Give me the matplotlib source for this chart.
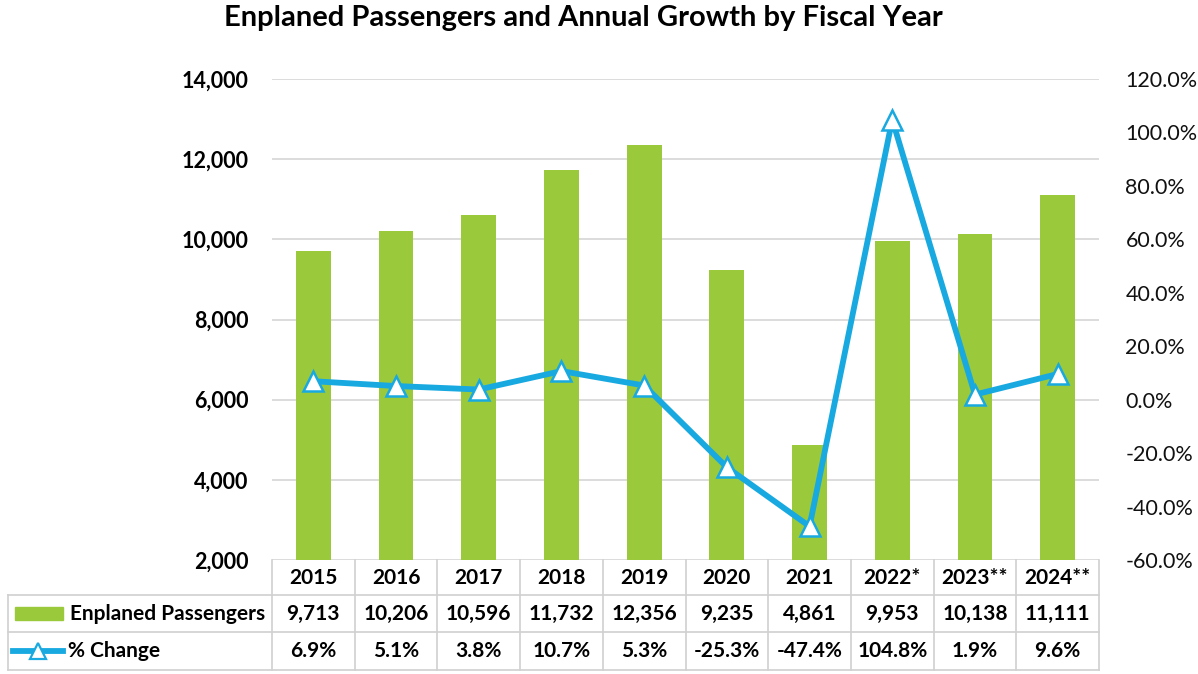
import matplotlib
matplotlib.use("Agg")
import matplotlib.pyplot as plt
from matplotlib.lines import Line2D
from matplotlib.patches import Rectangle
from matplotlib.ticker import FuncFormatter

years = ["2015", "2016", "2017", "2018", "2019", "2020", "2021", "2022*", "2023**", "2024**"]
passengers = [9713, 10206, 10596, 11732, 12356, 9235, 4861, 9953, 10138, 11111]
pct_change = [6.9, 5.1, 3.8, 10.7, 5.3, -25.3, -47.4, 104.8, 1.9, 9.6]
left_ticks = [2000, 4000, 6000, 8000, 10000, 12000, 14000]
right_ticks = [-60, -40, -20, 0, 20, 40, 60, 80, 100, 120]

GREEN = "#9ACA3C"
BLUE = "#18A9E1"
GRID = "#D9D9D9"
FONT = "Lato"

W, H = 1198, 674
fig = plt.figure(figsize=(W / 100, H / 100), dpi=100)
plt.rcParams['font.family'] = [FONT, 'DejaVu Sans']

x0, x1, ytop, ybot = 272, 1099, 79, 560
ax = fig.add_axes([x0 / W, 1 - ybot / H, (x1 - x0) / W, (ybot - ytop) / H])
n = len(years)
xs = list(range(n))
ax.bar(xs, passengers, width=0.42, color=GREEN, zorder=2)
ax.set_xlim(-0.5, n - 0.5)
ax.set_ylim(2000, 14000)
ax.set_yticks(left_ticks)
ax.yaxis.set_major_formatter(FuncFormatter(lambda v, p: f"{int(v):,}"))
ax.tick_params(axis='y', length=0, pad=17, labelsize=15.5)
for lab in ax.get_yticklabels():
    lab.set_fontweight('bold')
ax.set_xticks([])
ax.grid(axis='y', color=GRID, linewidth=1.3, zorder=0)
for s in ax.spines.values():
    s.set_visible(False)

ax2 = ax.twinx()
ax2.plot(xs, pct_change, color=BLUE, linewidth=4.2, marker='^', markersize=14,
         markerfacecolor='white', markeredgecolor=BLUE, markeredgewidth=1.8, zorder=3)
ax2.set_ylim(-60, 120)
ax2.set_yticks(right_ticks)
ax2.yaxis.set_major_formatter(FuncFormatter(lambda v, p: f"{v:.1f}%"))
ax2.tick_params(axis='y', length=0, pad=19, labelsize=15.5, labelcolor='#111111')
for s in ax2.spines.values():
    s.set_visible(False)
ax2.set_xticks([])

fig.text(0.487, 1 - 18 / H, "Enplaned Passengers and Annual Growth by Fiscal Year",
         ha='center', va='center', fontsize=21, fontweight='bold')

# table in pixel coords
def P(x, y):
    return (x / W, 1 - y / H)

rows_y = [560, 595, 632, 670]
left_edge = 8
colw = (x1 - x0) / n
lc = "#D0D0D0"
def hline(y, xa, xb):
    fig.add_artist(Line2D([xa / W, xb / W], [1 - y / H, 1 - y / H], color=lc, linewidth=1.2))
def vline(x, ya, yb):
    fig.add_artist(Line2D([x / W, x / W], [1 - ya / H, 1 - yb / H], color=lc, linewidth=1.2))

hline(rows_y[1], left_edge, x1)
hline(rows_y[2], left_edge, x1)
hline(rows_y[3], left_edge, x1)
for i in range(n + 1):
    vline(x0 + i * colw, rows_y[0], rows_y[3])
vline(left_edge, rows_y[1], rows_y[3])

fs = 15
for i in range(n):
    cx = x0 + (i + 0.5) * colw
    fig.text(*P(cx, (rows_y[0] + rows_y[1]) / 2), years[i], ha='center', va='center',
             fontsize=fs, fontweight='bold')
    fig.text(*P(cx, (rows_y[1] + rows_y[2]) / 2), f"{passengers[i]:,}", ha='center', va='center',
             fontsize=fs, fontweight='bold')
    fig.text(*P(cx, (rows_y[2] + rows_y[3]) / 2), f"{pct_change[i]:.1f}%", ha='center', va='center',
             fontsize=fs, fontweight='bold')

# legend keys
ym1 = (rows_y[1] + rows_y[2]) / 2
fig.add_artist(Rectangle(P(15, ym1 + 6), 48 / W, 13 / H, color=GREEN, transform=fig.transFigure))
fig.text(*P(70, ym1), "Enplaned Passengers", ha='left', va='center', fontsize=fs, fontweight='bold')
ym2 = (rows_y[2] + rows_y[3]) / 2
fig.add_artist(Line2D([13 / W, 63 / W], [1 - ym2 / H] * 2, color=BLUE, linewidth=4.2))
fig.add_artist(Line2D([38 / W], [1 - ym2 / H], marker='^', markersize=11, markerfacecolor='white',
                      markeredgecolor=BLUE, markeredgewidth=1.6, linestyle='none'))
fig.text(*P(68, ym2), "% Change", ha='left', va='center', fontsize=fs, fontweight='bold')

fig.savefig("out.png", dpi=100)
